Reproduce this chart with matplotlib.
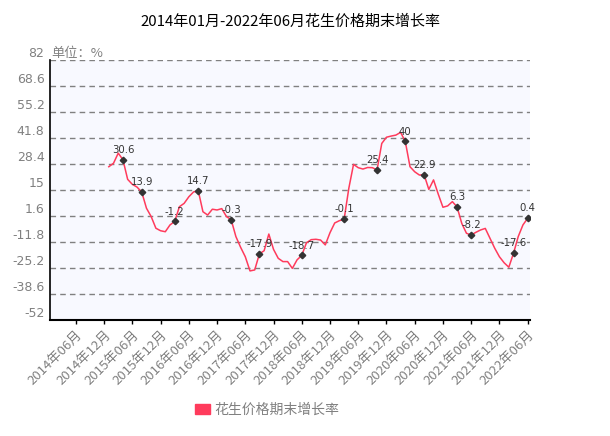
import numpy as np
import matplotlib
matplotlib.use("Agg")
import matplotlib.pyplot as plt
from matplotlib.patches import Patch

plt.rcParams['font.family'] = ['Noto Sans CJK SC', 'DejaVu Sans']

# -------- DATA --------
title = "2014年01月-2022年06月花生价格期末增长率"
series_name = "花生价格期末增长率"
unit_label = "单位：%"

# monthly categories 2014-01 .. 2022-06
months = [f"{y}年{m:02d}月" for y in range(2014, 2023) for m in range(1, 13)][:102]

# growth rate (%) from 2015-01 onwards; 2014 has no values
growth = [
    27.0, 28.8, 34.0, 30.6, 20.5, 17.9, 16.5, 13.9, 5.6, 1.3,
    -4.7, -6.0, -6.5, -3.0, -1.2, 6.4, 8.1, 11.5, 14.0, 14.7,
    3.8, 2.1, 5.1, 4.7, 5.4, 1.3, -0.3, -9.0, -14.5, -19.4,
    -26.7, -26.2, -17.9, -16.3, -7.7, -15.6, -20.2, -21.9, -21.9, -25.4,
    -21.0, -18.7, -12.2, -10.6, -10.4, -10.8, -13.3, -7.0, -2.0, -0.8,
    -0.1, 15.9, 28.2, 26.5, 25.8, 26.6, 26.5, 25.4, 39.0, 42.2,
    42.8, 43.3, 44.7, 40.0, 27.0, 24.4, 22.7, 22.9, 15.3, 20.2,
    12.9, 6.1, 6.8, 9.0, 6.3, -2.2, -7.3, -8.2, -6.8, -5.6,
    -4.8, -9.9, -15.0, -19.4, -22.5, -24.8, -17.6, -9.0, -3.0, 0.4,
]
values = np.array([np.nan] * 12 + growth)

# points that carry a marker and value label (month index)
labeled_idx = [15, 19, 26, 31, 38, 44, 53, 62, 69, 75, 79, 86, 89, 98, 101]

yticks = [82, 68.6, 55.2, 41.8, 28.4, 15, 1.6, -11.8, -25.2, -38.6, -52]
xtick_idx = list(range(5, 102, 6))

line_color = "#FF3B5C"
grey = "#808080"

# -------- PLOT --------
fig = plt.figure(figsize=(6.1, 4.36), dpi=100)
ax = fig.add_axes([50 / 610, 1 - 320 / 436, 480 / 610, 260 / 436])
ax.set_facecolor("#F8F9FF")

x = np.arange(len(months))
ax.plot(x, values, color=line_color, lw=1.1, zorder=3)
ax.plot(labeled_idx, values[labeled_idx], linestyle="none", marker="D",
        ms=3.3, color="#333333", zorder=4)
for i in labeled_idx:
    v = values[i]
    ax.annotate(f"{v:g}", (i, v), xytext=(0, 3.5), textcoords="offset points",
                ha="center", va="bottom", fontsize=7.3, color="#333333",
                family="DejaVu Sans", zorder=5)

ax.set_xlim(-0.5, len(months) - 0.5)
ax.set_ylim(-52, 82)

ax.set_yticks(yticks)
ax.set_yticklabels([f"{t:g}" for t in yticks], fontsize=9, color=grey,
                   family="DejaVu Sans")
for lbl in ax.get_yticklabels():
    lbl.set_va("bottom")
ax.tick_params(axis="y", length=0, pad=4)
ax.grid(axis="y", color=grey, linestyle=(0, (4, 3)), lw=1)
ax.set_axisbelow(True)

ax.set_xticks(xtick_idx)
ax.set_xticklabels([months[i] for i in xtick_idx], rotation=45, ha="right",
                   rotation_mode="anchor", fontsize=9.5, color=grey)
ax.tick_params(axis="x", length=3, width=1, color="black", pad=3)

for s in ["top", "right"]:
    ax.spines[s].set_visible(False)
ax.spines["left"].set_linewidth(1.2)
ax.spines["bottom"].set_linewidth(1.5)

ax.text(0.003, 1.0, unit_label, transform=ax.transAxes, ha="left", va="bottom",
        fontsize=9.5, color=grey)

fig.text(290 / 610, 1 - 22 / 436, title, ha="center", va="center",
         fontsize=10.8, color="black")

fig.legend(handles=[Patch(color=line_color, label=series_name)],
           loc="center", bbox_to_anchor=(267 / 610, 1 - 410 / 436),
           frameon=False, fontsize=10, labelcolor=grey,
           handlelength=1.1, handleheight=0.65, handletextpad=0.25)

plt.savefig("out.png", dpi=100)
